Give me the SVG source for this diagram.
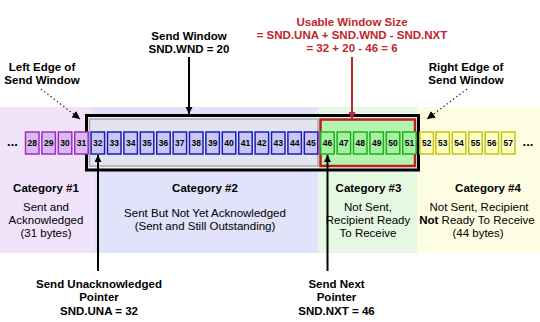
<svg xmlns="http://www.w3.org/2000/svg" width="540" height="322" viewBox="0 0 540 322">
<defs>
<style>
text{font-family:"Liberation Sans",Arial,sans-serif;fill:#000}
.b{font-weight:bold;font-size:11.5px;text-anchor:middle}
.n{font-size:11.5px;text-anchor:middle}
.red{fill:#c0262b}
.num{font-weight:bold;font-size:8.5px;text-anchor:middle}
.pc{fill:#dcb8f2;stroke:#9a2cc0;stroke-width:1.5}
.bc{fill:#c8c8f8;stroke:#1c1cb4;stroke-width:1.5}
.gc{fill:#a4f2a0;stroke:#1cb01c;stroke-width:1.5}
.yc{fill:#ffffc6;stroke:#c4c414;stroke-width:1.5}
.dot{stroke:#333;stroke-width:1.3;stroke-dasharray:1.5 2.5;fill:none}
</style>
<marker id="ah" viewBox="0 0 10 10" refX="10" refY="5" markerWidth="7" markerHeight="7" markerUnits="userSpaceOnUse" orient="auto"><path d="M0,0L10,5L0,10z" fill="#000"/></marker>
<marker id="ahr" viewBox="0 0 10 10" refX="10" refY="5" markerWidth="7" markerHeight="7" markerUnits="userSpaceOnUse" orient="auto"><path d="M0,0L10,5L0,10z" fill="#c0262b"/></marker>
<marker id="ahd" viewBox="0 0 10 10" refX="10" refY="5" markerWidth="8" markerHeight="8" markerUnits="userSpaceOnUse" orient="auto"><path d="M0,0L10,5L0,10z" fill="#000"/></marker>
</defs>
<rect width="540" height="322" fill="#fff"/>
<g id="bands">
<rect x="0" y="107" width="94" height="146" fill="#f1e4fa"/>
<rect x="94" y="107" width="224.5" height="146" fill="#e2e2fa"/>
<rect x="318.5" y="107" width="99" height="146" fill="#e5f9e2"/>
<rect x="417.5" y="107" width="122.5" height="146" fill="#fdfde3"/>
</g>
<g id="send-window-box">
<rect x="86.5" y="115.5" width="332" height="54.5" fill="#f2f2f6" stroke="#000" stroke-width="3"/>
<rect x="89.5" y="119" width="228.5" height="47" fill="#e4e4f0" stroke="#a8a8b0" stroke-width="1.5"/>
<rect x="320.5" y="119.5" width="94.5" height="46.5" fill="#b4f4ae" stroke="#b8201c" stroke-width="2.5"/>
</g>
<g id="cells">
<rect class="pc" x="25.5" y="132" width="13.5" height="22"/><text class="num" x="32.25" y="146">28</text>
<rect class="pc" x="41.9" y="132" width="13.5" height="22"/><text class="num" x="48.65" y="146">29</text>
<rect class="pc" x="58.3" y="132" width="13.5" height="22"/><text class="num" x="65.05" y="146">30</text>
<rect class="pc" x="74.7" y="132" width="13.5" height="22"/><text class="num" x="81.45" y="146">31</text>
<rect class="bc" x="91.1" y="132" width="13.5" height="22"/><text class="num" x="97.85" y="146">32</text>
<rect class="bc" x="107.5" y="132" width="13.5" height="22"/><text class="num" x="114.25" y="146">33</text>
<rect class="bc" x="123.9" y="132" width="13.5" height="22"/><text class="num" x="130.65" y="146">34</text>
<rect class="bc" x="140.3" y="132" width="13.5" height="22"/><text class="num" x="147.05" y="146">35</text>
<rect class="bc" x="156.7" y="132" width="13.5" height="22"/><text class="num" x="163.45" y="146">36</text>
<rect class="bc" x="173.1" y="132" width="13.5" height="22"/><text class="num" x="179.85" y="146">37</text>
<rect class="bc" x="189.5" y="132" width="13.5" height="22"/><text class="num" x="196.25" y="146">38</text>
<rect class="bc" x="205.9" y="132" width="13.5" height="22"/><text class="num" x="212.65" y="146">39</text>
<rect class="bc" x="222.3" y="132" width="13.5" height="22"/><text class="num" x="229.05" y="146">40</text>
<rect class="bc" x="238.7" y="132" width="13.5" height="22"/><text class="num" x="245.45" y="146">41</text>
<rect class="bc" x="255.1" y="132" width="13.5" height="22"/><text class="num" x="261.85" y="146">42</text>
<rect class="bc" x="271.5" y="132" width="13.5" height="22"/><text class="num" x="278.25" y="146">43</text>
<rect class="bc" x="287.9" y="132" width="13.5" height="22"/><text class="num" x="294.65" y="146">44</text>
<rect class="bc" x="304.3" y="132" width="13.5" height="22"/><text class="num" x="311.05" y="146">45</text>
<rect class="gc" x="320.7" y="132" width="13.5" height="22"/><text class="num" x="327.45" y="146">46</text>
<rect class="gc" x="337.1" y="132" width="13.5" height="22"/><text class="num" x="343.85" y="146">47</text>
<rect class="gc" x="353.5" y="132" width="13.5" height="22"/><text class="num" x="360.25" y="146">48</text>
<rect class="gc" x="369.9" y="132" width="13.5" height="22"/><text class="num" x="376.65" y="146">49</text>
<rect class="gc" x="386.3" y="132" width="13.5" height="22"/><text class="num" x="393.05" y="146">50</text>
<rect class="gc" x="402.7" y="132" width="13.5" height="22"/><text class="num" x="409.45" y="146">51</text>
<rect class="yc" x="419.9" y="132" width="13.5" height="22"/><text class="num" x="426.65" y="146">52</text>
<rect class="yc" x="435.9" y="132" width="13.5" height="22"/><text class="num" x="442.65" y="146">53</text>
<rect class="yc" x="452.3" y="132" width="13.5" height="22"/><text class="num" x="459.05" y="146">54</text>
<rect class="yc" x="468.7" y="132" width="13.5" height="22"/><text class="num" x="475.45" y="146">55</text>
<rect class="yc" x="485.1" y="132" width="13.5" height="22"/><text class="num" x="491.85" y="146">56</text>
<rect class="yc" x="501.5" y="132" width="13.5" height="22"/><text class="num" x="508.25" y="146">57</text>
<text x="12.5" y="146" font-size="13" font-weight="bold" text-anchor="middle">...</text>
<text x="528" y="146" font-size="13" font-weight="bold" text-anchor="middle">...</text>
</g>
<g id="connectors">
<line x1="189" y1="57" x2="189" y2="114" stroke="#000" stroke-width="2" marker-end="url(#ah)"/>
<line x1="352" y1="57" x2="352" y2="119" stroke="#c0262b" stroke-width="2" marker-end="url(#ahr)"/>
<line x1="98" y1="271" x2="98" y2="155" stroke="#000" stroke-width="2" marker-end="url(#ah)"/>
<line x1="327.5" y1="271" x2="327.5" y2="155" stroke="#000" stroke-width="2" marker-end="url(#ah)"/>
<line class="dot" x1="41" y1="89" x2="80" y2="119" marker-end="url(#ahd)"/>
<line class="dot" x1="467" y1="89" x2="427" y2="119" marker-end="url(#ahd)"/>
</g>
<g id="label-send-window">
<text class="b" x="189" y="39.5">Send Window</text>
<text class="b" x="189" y="52.5">SND.WND = 20</text>
</g>
<g id="label-usable-window">
<text class="b red" x="352" y="26">Usable Window Size</text>
<text class="b red" x="352" y="39">= SND.UNA + SND.WND - SND.NXT</text>
<text class="b red" x="352" y="52">= 32 + 20 - 46 = 6</text>
</g>
<g id="label-left-edge">
<text class="b" x="42" y="71">Left Edge of</text>
<text class="b" x="42" y="84">Send Window</text>
</g>
<g id="label-right-edge">
<text class="b" x="466" y="71">Right Edge of</text>
<text class="b" x="466" y="84">Send Window</text>
</g>
<g id="category-1">
<text class="b" x="46" y="192">Category #1</text>
<text class="n" x="46" y="211">Sent and</text>
<text class="n" x="46" y="224">Acknowledged</text>
<text class="n" x="46" y="237">(31 bytes)</text>
</g>
<g id="category-2">
<text class="b" x="205" y="192">Category #2</text>
<text class="n" x="205" y="217">Sent But Not Yet Acknowledged</text>
<text class="n" x="205" y="230">(Sent and Still Outstanding)</text>
</g>
<g id="category-3">
<text class="b" x="368.5" y="192">Category #3</text>
<text class="n" x="368" y="211">Not Sent,</text>
<text class="n" x="368" y="224">Recipient Ready</text>
<text class="n" x="368" y="237">To Receive</text>
</g>
<g id="category-4">
<text class="b" x="488" y="192">Category #4</text>
<text class="n" x="479" y="211">Not Sent, Recipient</text>
<text class="n" x="477" y="224"><tspan font-weight="bold">Not</tspan> Ready To Receive</text>
<text class="n" x="478" y="237">(44 bytes)</text>
</g>
<g id="label-snd-una">
<text class="b" x="99" y="288">Send Unacknowledged</text>
<text class="b" x="99" y="301">Pointer</text>
<text class="b" x="99" y="314.5">SND.UNA = 32</text>
</g>
<g id="label-snd-nxt">
<text class="b" x="336.5" y="288">Send Next</text>
<text class="b" x="336.5" y="301">Pointer</text>
<text class="b" x="336.5" y="314.5">SND.NXT = 46</text>
</g>
</svg>
